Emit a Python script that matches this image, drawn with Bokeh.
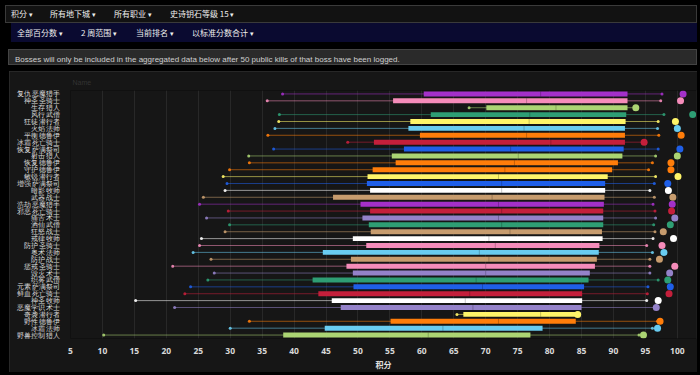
from bokeh.plotting import figure
from bokeh.models import Div, FactorRange, Range1d, FixedTicker, ColumnDataSource, GlobalInlineStyleSheet
from bokeh.layouts import column
from bokeh.embed import file_html
from bokeh.resources import INLINE

# ---------------- data ----------------
nav_items = ["积分", "所有地下城", "所有职业", "史诗钥石等级 15"]
sub_items = ["全部百分数", "2 周范围", "当前排名", "以标准分数合计"]
notice = "Bosses will only be included in the aggregated data below after 50 public kills of that boss have been logged."

specs = [
    "复仇 恶魔猎手", "神圣 圣骑士", "生存 猎人", "风行 武僧", "狂徒 潜行者", "火焰 法师",
    "平衡 德鲁伊", "冰霜 死亡骑士", "恢复 萨满祭司", "射击 猎人", "恢复 德鲁伊", "守护 德鲁伊",
    "敏锐 潜行者", "增强 萨满祭司", "暗影 牧师", "武器 战士", "浩劫 恶魔猎手", "邪恶 死亡骑士",
    "痛苦 术士", "酒仙 武僧", "狂怒 战士", "戒律 牧师", "防护 圣骑士", "奥术 法师",
    "防护 战士", "惩戒 圣骑士", "毁灭 术士", "织雾 武僧", "元素 萨满祭司", "鲜血 死亡骑士",
    "神圣 牧师", "恶魔学识 术士", "奇袭 潜行者", "野性 德鲁伊", "冰霜 法师", "野兽控制 猎人",
]
whisker_low = [38.2, 35.8, 67.4, 37.7, 37.6, 37.0, 35.9, 48.4, 36.8, 32.9, 33.0, 29.9,
               28.9, 29.5, 29.2, 25.8, 25.2, 29.7, 26.3, 29.9, 29.2, 25.5, 25.2, 24.2,
               27.0, 21.0, 27.5, 26.5, 23.8, 22.9, 15.2, 21.3, 65.5, 33.0, 30.0, 10.2]
q1 = [60.3, 55.5, 70.1, 61.4, 58.2, 57.9, 59.7, 52.5, 57.2, 55.3, 55.9, 52.3,
      51.5, 51.4, 51.9, 46.1, 50.4, 51.9, 50.7, 51.7, 52.0, 49.2, 51.3, 44.5,
      48.9, 48.2, 49.2, 42.9, 49.3, 43.8, 45.9, 47.3, 66.5, 55.1, 44.8, 38.3]
median = [78.6, 76.4, 81.0, 76.9, 76.8, 76.0, 76.4, 80.2, 73.9, 75.1, 74.5, 73.0,
          72.0, 72.5, 72.5, 71.0, 72.0, 72.5, 72.0, 72.5, 73.8, 70.5, 71.5, 69.0,
          70.5, 70.0, 70.0, 68.5, 69.5, 67.5, 66.8, 68.0, 78.6, 72.0, 63.3, 61.0]
q3 = [92.2, 92.2, 92.2, 92.0, 91.9, 91.8, 91.8, 91.8, 91.6, 91.4, 90.7, 89.8,
      89.1, 88.7, 88.7, 88.6, 88.5, 88.4, 88.4, 88.4, 88.2, 88.3, 87.8, 87.7,
      87.4, 87.1, 86.3, 86.1, 85.4, 85.1, 85.1, 85.0, 84.3, 84.1, 78.9, 77.0]
whisker_high = [97.6, 97.4, 93.5, 97.9, 97.0, 96.9, 97.1, 94.8, 97.0, 96.6, 96.1, 95.5,
                96.6, 96.4, 95.7, 96.4, 96.2, 96.5, 96.6, 96.3, 96.5, 96.2, 95.2, 96.1,
                95.7, 95.7, 95.7, 97.0, 95.4, 95.3, 95.2, 96.7, 84.4, 96.9, 96.1, 94.0]
top_score = [100.9, 100.5, 93.5, 102.4, 99.7, 100.0, 100.6, 94.8, 100.4, 100.0, 99.0, 99.0,
             100.1, 98.5, 98.6, 99.3, 99.2, 99.1, 99.6, 98.9, 97.8, 99.4, 97.6, 97.9,
             97.2, 99.6, 98.8, 98.5, 98.9, 98.7, 97.0, 96.7, 84.4, 97.3, 96.9, 94.7]
x_ticks = [5, 10, 15, 20, 25, 30, 35, 40, 45, 50, 55, 60, 65, 70, 75, 80, 85, 90, 95, 100]

# ---------------- styles ----------------
CLASS_COLORS = {
    "恶魔猎手": "#A330C9", "圣骑士": "#F58CBA", "猎人": "#ABD473", "武僧": "#2E9E74",
    "潜行者": "#FFF569", "法师": "#69CCF0", "德鲁伊": "#FF7D0A", "死亡骑士": "#C41F3B",
    "萨满祭司": "#1F5FE8", "牧师": "#FFFFFF", "战士": "#C79C6E", "术士": "#9482C9",
}
colors = [CLASS_COLORS[s.split(" ")[1]] for s in specs]

src = ColumnDataSource(dict(spec=specs, lo=whisker_low, q1=q1, med=median, q3=q3,
                            hi=whisker_high, top=top_score, color=colors))

CJK = "Noto Sans CJK SC"

p = figure(width=688, height=301, margin=(6, 0, 0, 9),
           y_range=FactorRange(factors=list(reversed(specs)), range_padding=0),
           x_range=Range1d(5, 103),
           output_backend="svg", toolbar_location=None,
           min_border_left=61, min_border_right=1, min_border_top=16, min_border_bottom=28,
           background_fill_color="#161616", border_fill_color="#161616",
           styles={"outline": "1px solid #2e2e2e", "outline-offset": "-1px"})
p.outline_line_color = None
p.title.text = "Name"
p.title.text_color = "#333333"
p.title.text_font_size = "7px"
p.title.text_font_style = "normal"
p.title.offset = 2

p.segment(x0="lo", y0="spec", x1="hi", y1="spec", line_color="color", line_alpha=0.55,
          line_width=1, source=src)
p.hbar(y="spec", left="q1", right="q3", height=0.72, fill_color="color", line_color=None,
       source=src)
p.rect(x="med", y="spec", width=1, width_units="screen", height=0.72, fill_color="#000000",
       fill_alpha=0.22, line_color=None, source=src)
p.scatter(x="lo", y="spec", size=3, fill_color="color", line_color=None, fill_alpha=0.9, source=src)
p.scatter(x="hi", y="spec", size=3, fill_color="color", line_color=None, fill_alpha=0.9, source=src)
p.scatter(x="top", y="spec", size=7, fill_color="color", line_color=None, source=src)

p.xaxis.ticker = FixedTicker(ticks=x_ticks)
p.xaxis.axis_label = "积分"
p.xaxis.axis_label_text_font = CJK
p.xaxis.axis_label_text_font_size = "8px"
p.xaxis.axis_label_text_font_style = "bold"
p.xaxis.axis_label_text_color = "#e0e0e0"
p.xaxis.axis_label_standoff = 2
p.xaxis.major_label_text_font = "Noto Sans"
p.xaxis.major_label_text_font_size = "8.5px"
p.xaxis.major_label_text_font_style = "bold"
p.xaxis.major_label_text_color = "#d8d8d8"
p.xaxis.major_label_standoff = 3
# Latin primary font (CJK glyphs come from the system fallback) keeps the
# dense category labels laid out cleanly
p.yaxis.major_label_text_font = "Liberation Sans"
p.yaxis.major_label_text_font_size = "7px"
p.yaxis.major_label_text_color = "#dddddd"
p.yaxis.major_label_standoff = 4
p.axis.axis_line_color = None
p.axis.major_tick_line_color = None
p.axis.minor_tick_line_color = None
p.xgrid.grid_line_color = "#282828"
p.ygrid.grid_line_color = None

# ---------------- header bars ----------------
def bar_html(items, lefts, height, color):
    spans = "".join(
        f'<span style="position:absolute;left:{x}px;top:0">{t} <span style="font-size:7px">&#9662;</span></span>'
        for t, x in zip(items, lefts))
    return (f'<div style="position:relative;height:{height}px;line-height:{height}px;'
            f'font-family:\'{CJK}\',sans-serif;font-size:8px;color:{color};white-space:nowrap">'
            f'{spans}</div>')

nav1 = Div(text=bar_html(nav_items, [5, 44, 108, 164], 16, "#eeeeee"),
           width=692, height=18, margin=(5, 0, 0, 5),
           styles={"background-color": "#121212", "border": "1px solid #3a3a3a",
                   "box-sizing": "border-box", "overflow": "hidden"})
nav2 = Div(text=bar_html(sub_items, [6, 70, 125, 181], 19, "#eeeeee"),
           width=686, height=19, margin=(0, 0, 0, 11),
           styles={"background-color": "#0a0a30", "box-sizing": "border-box", "overflow": "hidden"})
info = Div(text=(f'<div style="padding-left:6px;line-height:14px;font-family:\'Liberation Sans\',Arial,sans-serif;'
                 f'font-size:8px;color:#cfcfcf;white-space:nowrap">{notice}</div>'),
           width=689, height=16, margin=(7, 0, 0, 8),
           styles={"background-color": "#2a2a2a", "border": "1px solid #444444",
                   "box-sizing": "border-box", "overflow": "hidden"})

layout = column(nav1, nav2, info, p, spacing=0,
                stylesheets=[GlobalInlineStyleSheet(css="html,body{margin:0;padding:0;background:#000000;}")])

open("out.html", "w").write(file_html(layout, INLINE))
